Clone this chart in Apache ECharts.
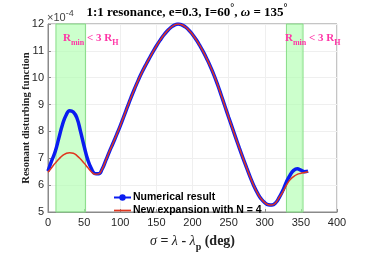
<!DOCTYPE html>
<html><head><meta charset="utf-8">
<script src="https://cdn.jsdelivr.net/npm/echarts@6/dist/echarts.min.js"></script>
<style>html,body{margin:0;padding:0;background:#fff}#c{width:374px;height:257px}</style>
</head><body><div id="c"></div>
<script>
const sigma = [0,5,10,15,20,25,30,35,40,45,50,55,60,65,70,75,80,85,90,95,100,105,110,115,120,125,130,135,140,145,150,155,160,165,170,175,180,185,190,195,200,205,210,215,220,225,230,235,240,245,250,255,260,265,270,275,280,285,290,295,300,305,310,315,320,325,330,335,340,345,350,355,360];
const numerical = [6.52,6.9,7.25,7.75,8.25,8.6,8.77,8.72,8.5,8.0,7.45,6.95,6.62,6.43,6.42,6.6,6.92,7.25,7.56,7.88,8.21,8.56,8.92,9.27,9.6,9.91,10.2,10.46,10.71,10.95,11.18,11.39,11.58,11.74,11.87,11.96,12.0,11.97,11.89,11.77,11.61,11.42,11.2,10.96,10.69,10.4,10.08,9.72,9.33,8.93,8.53,8.14,7.75,7.37,7.0,6.64,6.29,5.97,5.7,5.49,5.35,5.27,5.26,5.34,5.54,5.8,6.12,6.37,6.55,6.61,6.56,6.5,6.52];
const expansion = [6.48,6.65,6.82,6.97,7.1,7.18,7.21,7.19,7.1,6.97,6.82,6.66,6.5,6.41,6.42,6.6,6.92,7.25,7.56,7.88,8.21,8.56,8.92,9.27,9.6,9.91,10.2,10.46,10.71,10.95,11.18,11.39,11.58,11.74,11.87,11.96,12.0,11.97,11.89,11.77,11.61,11.42,11.2,10.96,10.69,10.4,10.08,9.72,9.33,8.93,8.53,8.14,7.75,7.37,7.0,6.64,6.29,5.97,5.7,5.49,5.35,5.27,5.26,5.34,5.54,5.75,6.0,6.2,6.32,6.4,6.44,6.47,6.5];
const bands = [[11,52],[330,353]];
const xTicks = [0,50,100,150,200,250,300,350,400];
const yTicks = [5,6,7,8,9,10,11,12];

const chart = echarts.init(document.getElementById('c'), null, {renderer:'canvas'});
const serif = '"Liberation Serif", "DejaVu Serif", serif';
const sans = '"Liberation Sans", Arial, sans-serif';
const pink = '#ff33a6';
const annot = (x) => ({
  type:'text', left:x, top:30, z:20,
  style:{
    text:'{r|R}{s|min}{r| < 3 R}{s|H}',
    rich:{
      r:{fontFamily:serif, fontWeight:'bold', fontSize:11, fill:pink, lineHeight:14},
      s:{fontFamily:serif, fontWeight:'bold', fontSize:8, fill:pink, padding:[9,0,0,0], lineHeight:14}
    }
  }
});
chart.setOption({
  animation:false,
  backgroundColor:'#fff',
  title:{
    text:'{b|1:1 resonance, e=0.3, I=60}{s|°}{b|, }{i|ω}{b| = 135}{s|°}',
    left:'center', top:4, padding:0,
    textStyle:{
      rich:{
        b:{fontFamily:serif, fontWeight:'bold', fontSize:13, color:'#000', lineHeight:18},
        i:{fontFamily:serif, fontStyle:'italic', fontWeight:'bold', fontSize:13, color:'#000', lineHeight:18},
        s:{fontFamily:serif, fontWeight:'bold', fontSize:10, color:'#000', padding:[0,0,9,0], lineHeight:18}
      }
    }
  },
  grid:{left:48, right:37, top:24, bottom:39, show:true, borderColor:'#8a8a8a', borderWidth:1},
  legend:{
    orient:'vertical', left:108, top:187, itemGap:2, itemWidth:17, itemHeight:8,
    textStyle:{fontFamily:sans, fontWeight:'bold', fontSize:10.5, color:'#000', padding:[0,0,0,-3]},
    data:[{name:'Numerical result'},{name:'New expansion with N = 4', icon:'path://M0,0 L10,0 L10,1 L0,1 Z'}]
  },
  xAxis:{
    type:'value', min:0, max:400, interval:50,
    axisLine:{show:true, lineStyle:{color:'#8a8a8a'}},
    axisTick:{show:true, inside:true, length:3, lineStyle:{color:'#8a8a8a'}},
    axisLabel:{fontFamily:sans, fontSize:11, color:'#262626', margin:5},
    splitLine:{show:true, lineStyle:{color:'#efefef', width:1}},
    name:'{i|σ}{b| = }{i|λ}{b| - }{i|λ}{s|p}{b| (deg)}', nameLocation:'middle', nameGap:19,
    nameTextStyle:{rich:{
      b:{fontFamily:serif, fontWeight:'bold', fontSize:14, color:'#222'},
      i:{fontFamily:serif, fontStyle:'italic', fontSize:14, color:'#222'},
      s:{fontFamily:serif, fontWeight:'bold', fontSize:10, color:'#222', padding:[11,0,0,0]}
    }}
  },
  yAxis:{
    type:'value', min:5, max:12, interval:1,
    axisLine:{show:true, lineStyle:{color:'#8a8a8a'}},
    axisTick:{show:true, inside:true, length:3, lineStyle:{color:'#8a8a8a'}},
    axisLabel:{fontFamily:sans, fontSize:11, color:'#262626', margin:4},
    splitLine:{show:true, lineStyle:{color:'#efefef', width:1}},
    name:'Resonant disturbing function', nameLocation:'middle', nameGap:16, nameMoveOverlap:false,
    nameTextStyle:{fontFamily:serif, fontWeight:'bold', fontSize:10.5, color:'#222'}
  },
  series:[
    {
      type:'line', name:'bands', data:[], silent:true, z:1,
      markArea:{silent:true,
        itemStyle:{color:'rgba(170,255,170,0.6)', borderColor:'#88dd88', borderWidth:1},
        data: bands.map(b => [{xAxis:b[0]},{xAxis:b[1]}])}
    },
    {
      type:'line', name:'Numerical result', data: sigma.map((s,i)=>[s, numerical[i]]),
      smooth:0.5, symbol:'circle', symbolSize:3, showSymbol:false, z:3,
      lineStyle:{color:'#0a1cf0', width:3.5}, itemStyle:{color:'#0a1cf0'}
    },
    {
      type:'line', name:'New expansion with N = 4', data: sigma.map((s,i)=>[s, expansion[i]]),
      smooth:0.5, symbol:'none', z:4,
      lineStyle:{color:'#e0361e', width:1.5}, itemStyle:{color:'#e0361e'}
    }
  ],
  graphic:[
    annot(63), annot(285),
    {type:'text', left:47, top:8, z:20, style:{text:'{a|×10}{b|-4}', rich:{
      a:{fontFamily:sans, fontSize:11, fill:'#444', lineHeight:16, padding:[4,0,0,0]},
      b:{fontFamily:sans, fontSize:9, fill:'#444', lineHeight:16, padding:[0,0,4,0]}}}}
  ]
});
</script></body></html>
